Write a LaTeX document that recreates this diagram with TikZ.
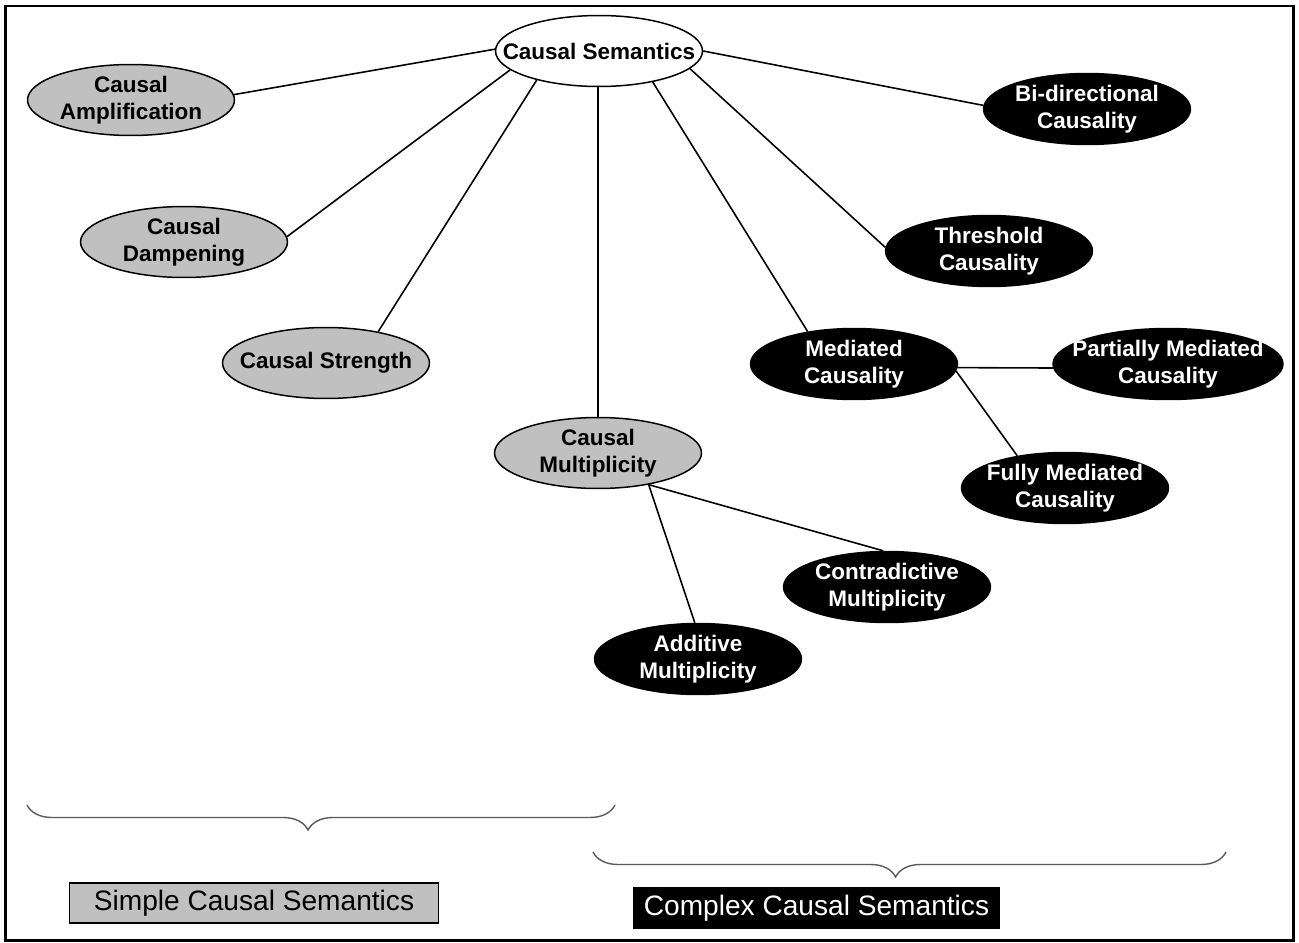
\documentclass[tikz,border=0pt]{standalone}
\usepackage{fontspec}
\setmainfont{Liberation Sans}
\usetikzlibrary{shapes.geometric, decorations.pathreplacing}
\usepackage{xcolor}
\definecolor{sgray}{RGB}{192,192,192}
\definecolor{bgray}{RGB}{90,90,90}

\begin{document}
\begin{tikzpicture}[x=0.02cm, y=-0.02cm,
  soft/.style={ellipse,draw,line width=0.85pt,fill=sgray,
               font=\fontsize{12.8}{15.2}\selectfont\bfseries,
               minimum width=4.14cm,minimum height=1.42cm,
               inner xsep=-0.3cm,inner ysep=0pt,align=center},
  hard/.style={soft,fill=black,text=white},
  root/.style={soft,fill=white,inner xsep=-0.48cm},
  link/.style={line width=0.9pt,black},
  brc/.style={decorate,decoration={brace,mirror,amplitude=0.5cm,aspect=0.478},
              bgray,line width=0.8pt},
  tag/.style={rectangle,draw,line width=0.6pt,font=\fontsize{16}{19}\selectfont,
              minimum width=7.4cm,minimum height=0.8cm,inner sep=0pt}
]
\useasboundingbox (0,0) rectangle (1299,943);
\draw[line width=1.4pt] (5.5,6) rectangle (1293.5,940.5);

% centre and simple semantics
\node[root] (sem)   at (599,51)  {Causal Semantics};
\node[soft] (ampl)  at (131,100) {Causal\\Amplification};
\node[soft] (damp)  at (184,242) {Causal\\Dampening};
\node[soft] (strg)  at (326,363) {Causal Strength};
\node[soft] (mult)  at (598,453) {Causal\\Multiplicity};

% complex semantics
\node[hard] (bidir)  at (1087,109) {Bi-directional\\Causality};
\node[hard] (thresh) at (989,251)  {Threshold\\Causality};
\node[hard] (med)    at (854,364)  {Mediated\\Causality};
\node[hard, minimum width=4.6cm] (part) at (1168,364) {Partially Mediated\\Causality};
\node[hard] (full)   at (1065,488) {Fully Mediated\\Causality};
\node[hard] (contra) at (887,587)  {Contradictive\\Multiplicity};
\node[hard] (addit)  at (698,659)  {Additive\\Multiplicity};

\draw[link] (sem.179) -- (ampl.3);
\draw[link] (sem.192) -- (damp.3);
\draw[link] (sem.205) -- (strg.31);
\draw[link] (sem.south -| mult.north) -- (mult);
\draw[link] (sem.330) -- (med.145);
\draw[link] (sem.349) -- (thresh.178);
\draw[link] (sem.0) -- (bidir.178);
\draw[link] (med.358) -- (part.182);
\draw[link] (med.356) -- (full.146);
\draw[link] (mult.328) -- (contra.96);
\draw[link] (mult.328) -- (addit.95);

% braces and legend
\coordinate (lbA) at (27,805);
\coordinate (lbB) at (615,805);
\coordinate (rbA) at (593,852);
\coordinate (rbB) at (1226,852);
\draw[brc] (lbA) -- (lbB);
\draw[brc] (rbA) -- (rbB);

\node[tag, fill=sgray] (simple) at (254,903) {Simple Causal Semantics};
\node[tag, fill=black, text=white, minimum width=7.34cm] (complex) at (816.5,908) {Complex Causal Semantics};
\end{tikzpicture}
\end{document}
